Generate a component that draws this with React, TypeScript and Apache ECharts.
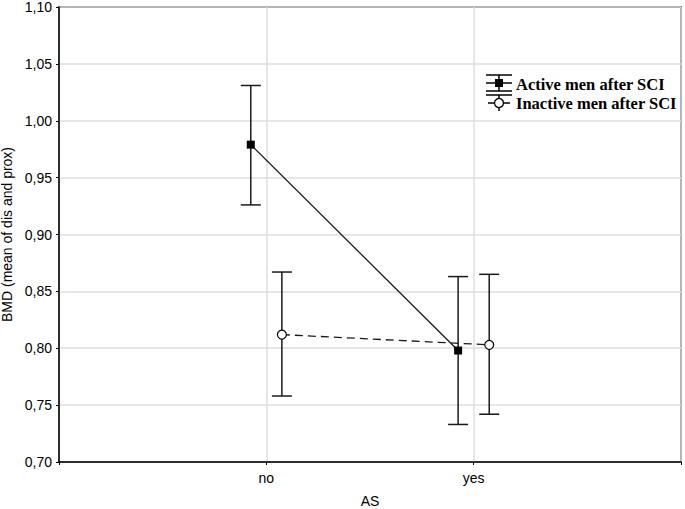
import React, { useEffect, useRef } from "react";
import * as echarts from "echarts";

const categories = ["no", "yes"];
const offsets = [-0.075, 0.075];
const activeMean = [0.979, 0.798];
const activeLow = [0.926, 0.733];
const activeHigh = [1.031, 0.863];
const inactiveMean = [0.812, 0.803];
const inactiveLow = [0.758, 0.742];
const inactiveHigh = [0.867, 0.865];
const seriesNames = ["Active men after SCI", "Inactive men after SCI"];

export default function App() {
  const ref = useRef<HTMLDivElement>(null);
  useEffect(() => {
    if (!ref.current) return;
    const chart = echarts.init(ref.current, null, { renderer: "svg" });
    const pos = (i: number, s: number) => i + 1 + offsets[s];
    const activePts = activeMean.map((v, i) => [pos(i, 0), v]);
    const inactivePts = inactiveMean.map((v, i) => [pos(i, 1), v]);
    const errData = [
      ...activeLow.map((l, i) => [pos(i, 0), l, activeHigh[i]]),
      ...inactiveLow.map((l, i) => [pos(i, 1), l, inactiveHigh[i]]),
    ];
    const lineColor = "#1a1a1a";
    const legendFont = "bold 16.5px 'Liberation Serif'";
    chart.setOption({
      animation: false,
      grid: {
        left: 59,
        top: 7,
        right: 4,
        bottom: 47,
        show: true,
        borderColor: "#000",
        borderWidth: 1.5,
        backgroundColor: "transparent",
        containLabel: false,
        outerBoundsMode: "none",
      },
      xAxis: {
        type: "value",
        min: 0,
        max: 3,
        interval: 1,
        name: "AS",
        nameLocation: "middle",
        nameGap: 32,
        nameTextStyle: { fontFamily: "Liberation Sans", fontSize: 14, color: "#000" },
        axisLine: { show: true, lineStyle: { color: "#000", width: 1.5 } },
        axisTick: { show: true, length: 3, lineStyle: { color: "#000" } },
        axisLabel: {
          fontFamily: "Liberation Sans",
          fontSize: 14,
          color: "#000",
          margin: 9,
          formatter: (v: number) => (v >= 1 && v <= categories.length ? categories[v - 1] : ""),
        },
        splitLine: { show: true, lineStyle: { color: "#dedede", width: 1.5 } },
      },
      yAxis: {
        type: "value",
        min: 0.7,
        max: 1.1,
        interval: 0.05,
        name: "BMD (mean of dis and prox)",
        nameLocation: "middle",
        nameGap: 44,
        nameTextStyle: { fontFamily: "Liberation Sans", fontSize: 14, color: "#000" },
        axisLine: { show: true, lineStyle: { color: "#000", width: 1.5 } },
        axisTick: { show: true, length: 3, lineStyle: { color: "#000" } },
        axisLabel: {
          fontFamily: "Liberation Sans",
          fontSize: 14,
          color: "#000",
          margin: 7,
          formatter: (v: number) => v.toFixed(2).replace(".", ","),
        },
        splitLine: { show: true, lineStyle: { color: "#dedede", width: 1.5 } },
      },
      series: [
        {
          type: "custom",
          name: "err",
          data: errData,
          z: 3,
          renderItem: (params: any, api: any) => {
            const x = api.value(0);
            const lo = api.coord([x, api.value(1)]);
            const hi = api.coord([x, api.value(2)]);
            const hw = 10;
            const style = { stroke: lineColor, lineWidth: 1.5 };
            return {
              type: "group",
              children: [
                { type: "line", shape: { x1: lo[0], y1: lo[1], x2: hi[0], y2: hi[1] }, style },
                { type: "line", shape: { x1: lo[0] - hw, y1: lo[1], x2: lo[0] + hw, y2: lo[1] }, style },
                { type: "line", shape: { x1: hi[0] - hw, y1: hi[1], x2: hi[0] + hw, y2: hi[1] }, style },
              ],
            };
          },
        },
        {
          type: "line",
          name: seriesNames[0],
          data: activePts,
          symbol: "rect",
          symbolSize: 8,
          z: 5,
          itemStyle: { color: "#000" },
          lineStyle: { color: lineColor, width: 1.3, type: "solid" },
        },
        {
          type: "line",
          name: seriesNames[1],
          data: inactivePts,
          symbol: "circle",
          symbolSize: 9,
          z: 5,
          itemStyle: { color: "#fff", borderColor: "#000", borderWidth: 1.2 },
          lineStyle: { color: lineColor, width: 1.3, type: [8, 5] },
        },
      ],
      graphic: [
        { type: "line", shape: { x1: 486, y1: 75, x2: 512, y2: 75 }, style: { stroke: "#000", lineWidth: 1.5 } },
        { type: "line", shape: { x1: 486, y1: 91, x2: 512, y2: 91 }, style: { stroke: "#000", lineWidth: 1.5 } },
        { type: "line", shape: { x1: 486, y1: 83, x2: 512, y2: 83 }, style: { stroke: "#000", lineWidth: 1.5 } },
        { type: "line", shape: { x1: 499, y1: 75, x2: 499, y2: 91 }, style: { stroke: "#000", lineWidth: 1.5 } },
        { type: "rect", shape: { x: 495, y: 79, width: 8, height: 8 }, style: { fill: "#000" } },
        {
          type: "text",
          x: 516,
          y: 84,
          style: { text: seriesNames[0], font: legendFont, fill: "#000", verticalAlign: "middle" },
        },
        { type: "line", shape: { x1: 486, y1: 95, x2: 512, y2: 95 }, style: { stroke: "#000", lineWidth: 1.5 } },
        { type: "line", shape: { x1: 488, y1: 103, x2: 510, y2: 103 }, style: { stroke: "#000", lineWidth: 1.5 } },
        { type: "line", shape: { x1: 499, y1: 95, x2: 499, y2: 111 }, style: { stroke: "#000", lineWidth: 1.5 } },
        { type: "circle", shape: { cx: 499, cy: 103, r: 4.5 }, style: { fill: "#fff", stroke: "#000", lineWidth: 1.3 } },
        {
          type: "text",
          x: 516,
          y: 103,
          style: { text: seriesNames[1], font: legendFont, fill: "#000", verticalAlign: "middle" },
        },
      ],
    });
    return () => chart.dispose();
  }, []);
  return <div ref={ref} style={{ width: 685, height: 509, position: "absolute", left: 0, top: 0 }} />;
}
